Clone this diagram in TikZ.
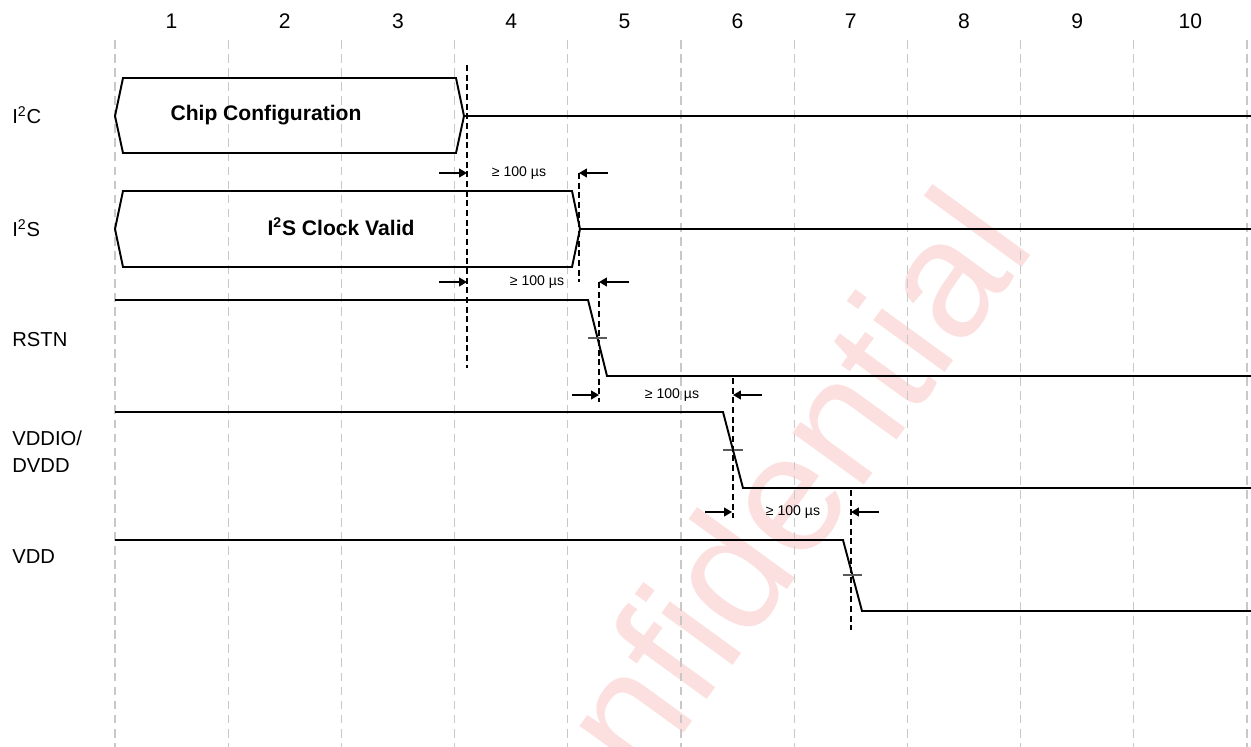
\documentclass[tikz,border=0pt]{standalone}
\usepackage{fontspec}
\setmainfont{Liberation Sans}
\usetikzlibrary{arrows.meta}
\definecolor{gridgray}{RGB}{200, 200, 200}
\definecolor{markpink}{RGB}{252, 224, 224}
\definecolor{tickgray}{RGB}{90, 90, 90}

\tikzset{
  gridline/.style={gridgray, line width=0.6pt, dash pattern=on 5pt off 3pt},
  signal/.style={line width=1.1pt, line join=miter},
  guide/.style={line width=0.8pt, dash pattern=on 3.5pt off 2pt},
  dimarrow/.style={-{Triangle[length=4.5pt, width=5pt]}, line width=0.9pt},
  crossmark/.style={tickgray, line width=0.6pt},
  siglabel/.style={font=\fontsize{11.5}{15.3}\selectfont, anchor=west, inner sep=0pt, align=left},
  bustext/.style={font=\fontsize{12}{14}\selectfont\bfseries},
  dimtext/.style={font=\fontsize{8}{10}\selectfont}
}

\begin{document}
\begin{tikzpicture}[x=0.02cm, y=-0.02cm]
        \useasboundingbox (0,0) rectangle (1251,747);

        % WATERMARK
        \begin{scope}
          \clip (0,0) rectangle (1251,747);
          \node[markpink, font=\fontsize{95}{95}\selectfont, rotate=54, anchor=base] (mark) at (778,603) {Confidential};
        \end{scope}

        % CYCLE GRID
        \foreach \i in {0,...,10}
          \draw[gridline] (115+113.2*\i,40) -- (115+113.2*\i,747);
        \foreach \i in {1,...,10}
          \node[font=\fontsize{12}{14}\selectfont] (cyc\i) at (58.4+113.2*\i,21) {\i};

        % SIGNAL NAMES
        \node[siglabel] (li2c) at (12,115) {I\textsuperscript{2}C};
        \node[siglabel] (li2s) at (12,228) {I\textsuperscript{2}S};
        \node[siglabel] (lrst) at (12,340) {RSTN};
        \node[siglabel] (lvio) at (12,452) {VDDIO/\\DVDD};
        \node[siglabel] (lvdd) at (12,557) {VDD};

        % I2C BUS
        \draw[signal] (464,116) -- (456,78) -- (123,78) -- (115,116) -- (123,153) -- (456,153) -- cycle;
        \draw[signal] (464,116) -- (1251,116);
        \node[bustext] (cfg) at (266,115) {Chip Configuration};

        % I2S BUS
        \draw[signal] (580,229) -- (572,191) -- (123,191) -- (115,229) -- (123,267) -- (572,267) -- cycle;
        \draw[signal] (580,229) -- (1251,229);
        \node[bustext] (clk) at (341,227) {I\textsuperscript{2}S Clock Valid};

        % RSTN
        \draw[signal] (115,300) -- (588,300) -- (607,376) -- (1251,376);
        \draw[crossmark] (588,338) -- (607,338);

        % VDDIO / DVDD
        \draw[signal] (115,412) -- (723,412) -- (743,488) -- (1251,488);
        \draw[crossmark] (723,450) -- (743,450);

        % VDD
        \draw[signal] (115,540) -- (843,540) -- (862,611) -- (1251,611);
        \draw[crossmark] (843,575) -- (862,575);

        % GUIDES
        \draw[guide] (467,65) -- (467,368);
        \draw[guide] (579,173) -- (579,282);
        \draw[guide] (599,282) -- (599,402);
        \draw[guide] (733,378) -- (733,518);
        \draw[guide] (851,490) -- (851,630);

        % DELAYS
        \coordinate (a1) at (439,173); \coordinate (b1) at (467,173);
        \coordinate (c1) at (608,173); \coordinate (e1) at (579,173);
        \draw[dimarrow] (a1) -- (b1);
        \draw[dimarrow] (c1) -- (e1);
        \node[dimtext] (t1) at (519,173) {≥ 100 µs};

        \coordinate (a2) at (439,282); \coordinate (b2) at (467,282);
        \coordinate (c2) at (629,282); \coordinate (e2) at (599,282);
        \draw[dimarrow] (a2) -- (b2);
        \draw[dimarrow] (c2) -- (e2);
        \node[dimtext] (t2) at (537,282) {≥ 100 µs};

        \coordinate (a3) at (572,395); \coordinate (b3) at (599,395);
        \coordinate (c3) at (762,395); \coordinate (e3) at (733,395);
        \draw[dimarrow] (a3) -- (b3);
        \draw[dimarrow] (c3) -- (e3);
        \node[dimtext] (t3) at (672,395) {≥ 100 µs};

        \coordinate (a4) at (705,512); \coordinate (b4) at (732,512);
        \coordinate (c4) at (879,512); \coordinate (e4) at (851,512);
        \draw[dimarrow] (a4) -- (b4);
        \draw[dimarrow] (c4) -- (e4);
        \node[dimtext] (t4) at (793,512) {≥ 100 µs};
      \end{tikzpicture}
\end{document}
